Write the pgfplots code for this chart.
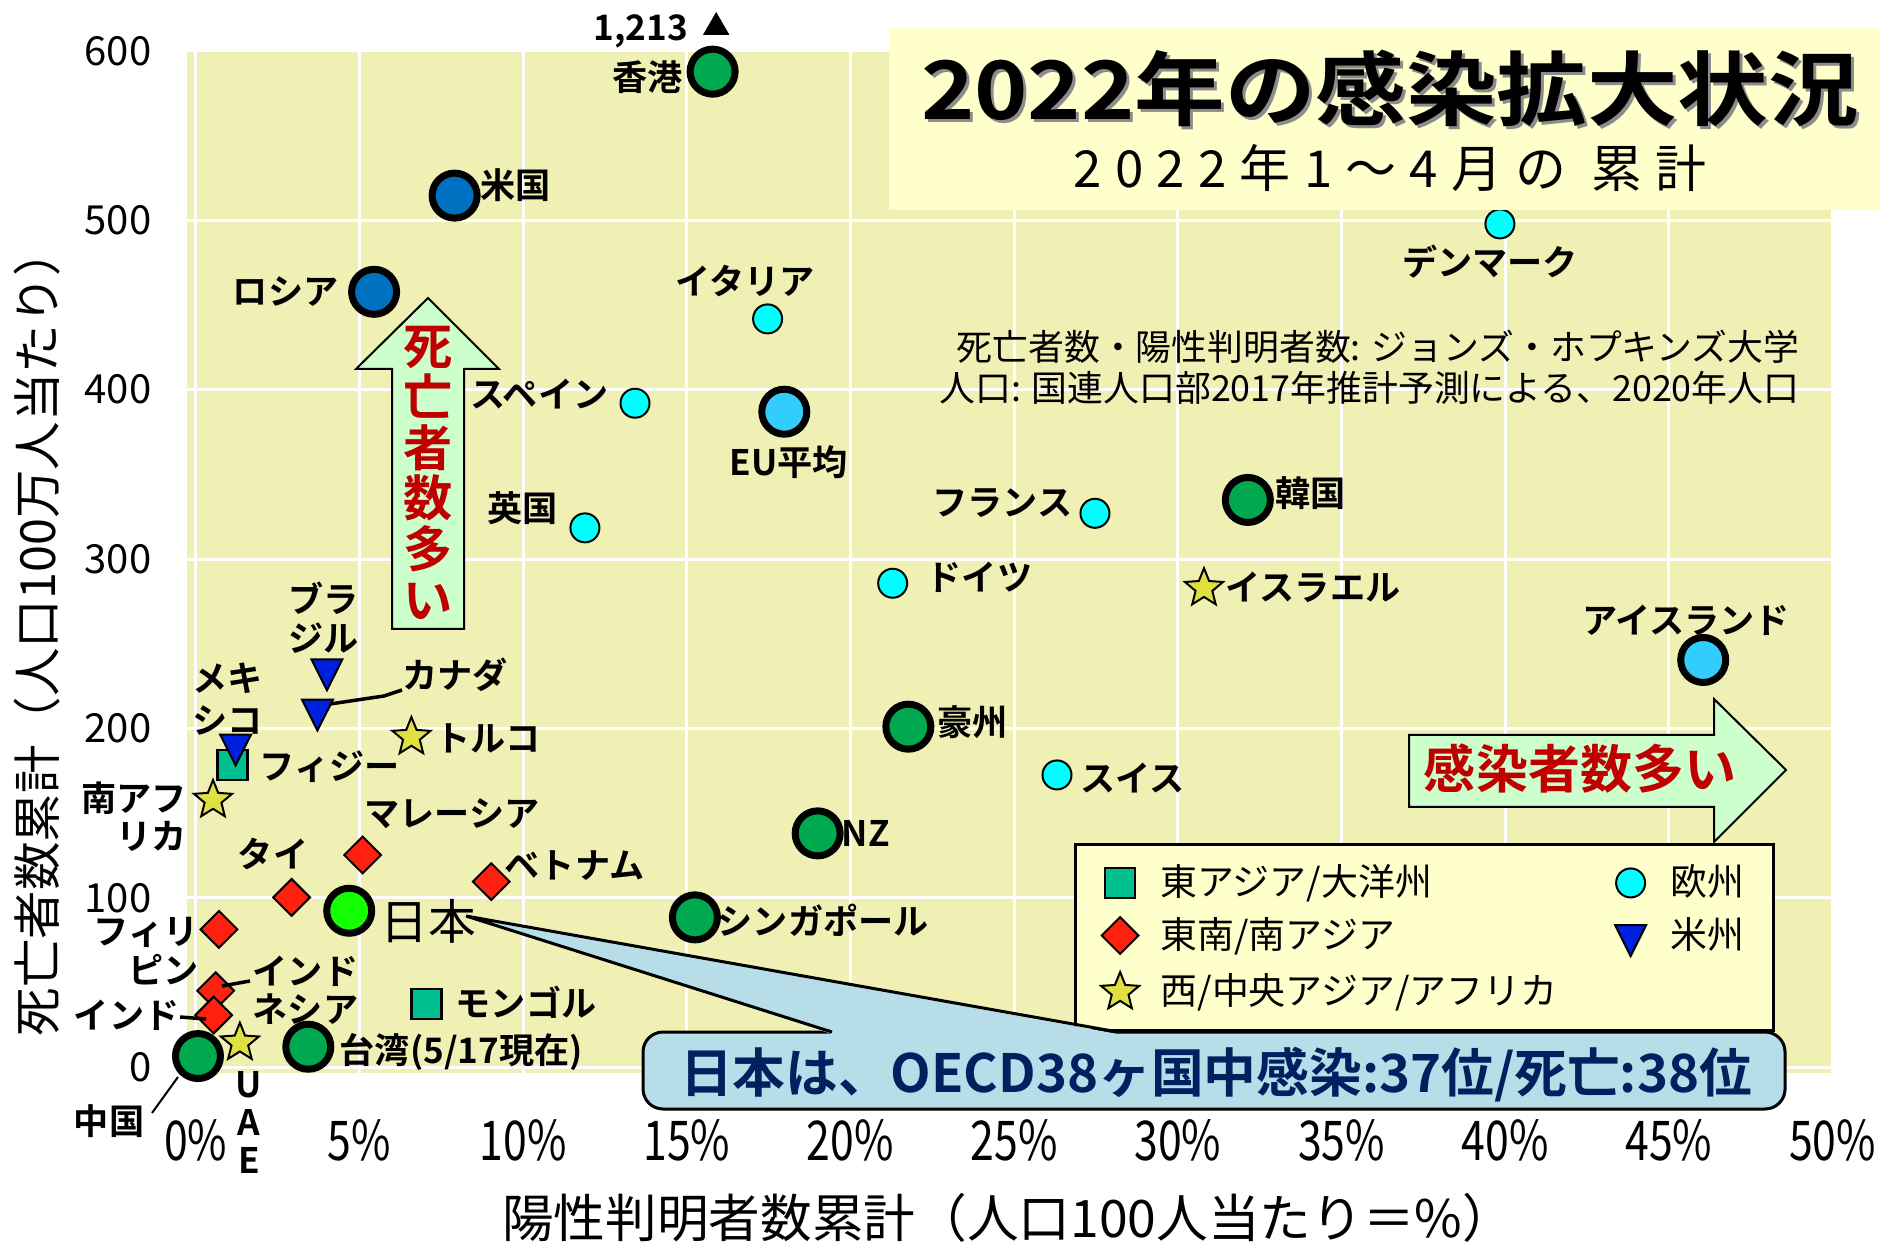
\documentclass[border=0pt]{standalone}
\usepackage{fontspec}
\setmainfont{Noto Sans CJK JP}[BoldFont={Noto Sans CJK JP Bold}]
\usepackage{graphicx}
\usepackage{pgfplots}
\pgfplotsset{compat=1.18}
\usetikzlibrary{plotmarks}

\definecolor{plotbg}{RGB}{240,240,180}
\definecolor{boxbg}{RGB}{255,255,204}
\definecolor{cgreen}{RGB}{0,168,80}
\definecolor{cjapan}{RGB}{20,255,0}
\definecolor{cblue}{RGB}{0,112,192}
\definecolor{clblue}{RGB}{51,204,255}
\definecolor{ccyan}{RGB}{0,255,255}
\definecolor{ctri}{RGB}{0,32,224}
\definecolor{cred}{RGB}{255,32,16}
\definecolor{cstar}{RGB}{224,224,64}
\definecolor{cteal}{RGB}{0,192,144}
\definecolor{arrowfill}{RGB}{204,255,204}
\definecolor{arrowtext}{RGB}{192,0,0}
\definecolor{callfill}{RGB}{183,222,232}
\definecolor{calltext}{RGB}{0,32,96}

\newcommand{\lab}{\fontsize{10}{12}\selectfont\bfseries}

\pgfdeclareplotmark{fstar}{%
  \pgfpathmoveto{\pgfqpointpolar{90}{\pgfplotmarksize}}%
  \pgfpathlineto{\pgfqpointpolar{126}{0.44\pgfplotmarksize}}%
  \pgfpathlineto{\pgfqpointpolar{162}{\pgfplotmarksize}}%
  \pgfpathlineto{\pgfqpointpolar{198}{0.44\pgfplotmarksize}}%
  \pgfpathlineto{\pgfqpointpolar{234}{\pgfplotmarksize}}%
  \pgfpathlineto{\pgfqpointpolar{270}{0.44\pgfplotmarksize}}%
  \pgfpathlineto{\pgfqpointpolar{306}{\pgfplotmarksize}}%
  \pgfpathlineto{\pgfqpointpolar{342}{0.44\pgfplotmarksize}}%
  \pgfpathlineto{\pgfqpointpolar{18}{\pgfplotmarksize}}%
  \pgfpathlineto{\pgfqpointpolar{54}{0.44\pgfplotmarksize}}%
  \pgfpathclose
  \pgfusepathqfillstroke
}

\pgfplotsset{
  bigc/.style={only marks, mark=*, mark size=2.25mm, line width=0.7mm, draw=black},
  smallc/.style={only marks, mark=*, mark size=1.45mm, line width=0.2mm, draw=black, fill=ccyan},
  tri/.style={only marks, mark=triangle*, mark size=1.79mm, mark options={rotate=180, yscale=1.15}, line width=0.2mm, draw=black, fill=ctri},
  dia/.style={only marks, mark=square*, mark size=1.3mm, mark options={rotate=45}, line width=0.2mm, draw=black, fill=cred},
  sta/.style={only marks, mark=fstar, mark size=2.0mm, line width=0.2mm, draw=black, fill=cstar},
  sqs/.style={only marks, mark=square*, mark size=1.5mm, line width=0.25mm, draw=black, fill=cteal},
}

\begin{document}
\begin{tikzpicture}
\begin{axis}[
  scale only axis, width=164.5mm, height=102.2mm,
  xmin=-0.25, xmax=50, ymin=-3.5, ymax=600,
  xtick={0,5,...,50}, ytick={0,100,...,600},
  grid=major, major grid style={white, line width=0.3mm},
  axis line style={draw=none}, major tick length=0pt, tick style={draw=none},
  axis background/.style={fill=plotbg},
  clip=false,
  /pgf/number format/assume math mode=true,
  xticklabel={\scalebox{0.78}[1]{\pgfmathprintnumber{\tick}\%}},
  xticklabel style={font=\fontsize{15.6}{18}\selectfont, anchor=base, inner sep=0pt, yshift=-8.7mm},
  yticklabel style={font=\fontsize{11.4}{13}\selectfont, anchor=east, inner sep=0pt, xshift=-3.55mm},
  legend columns=2,
  legend cell align=left,
  legend style={at={(axis cs:26.84,132.3)}, anchor=north west, fill=boxbg, draw=black, line width=0.25mm,
    inner xsep=2.55mm, inner ysep=2.05mm, row sep=1.6mm, column sep=0pt, nodes={inner sep=0pt},
    font=\fontsize{10.5}{12}\selectfont},
]
% legend entries
\addlegendimage{sqs}\addlegendentry{\hspace{2.15mm}\makebox[45.45mm][l]{東アジア/大洋州}}
\addlegendimage{smallc}\addlegendentry{\hspace{2.45mm}\makebox[7.75mm][l]{欧州}}
\addlegendimage{dia}\addlegendentry{\hspace{2.15mm}\makebox[45.45mm][l]{東南/南アジア}}
\addlegendimage{tri}\addlegendentry{\hspace{2.45mm}\makebox[7.75mm][l]{米州}}
\addlegendimage{sta}\addlegendentry{\hspace{2.15mm}\makebox[45.45mm][l]{西/中央アジア/アフリカ}}

% Europe small
\addplot[smallc, forget plot] coordinates {(17.47,441.8) (13.42,392) (11.89,318.4) (39.84,497.9) (27.47,327) (21.29,285.7) (26.31,172.5)};
% East Asia / Oceania squares
\addplot[sqs, forget plot] coordinates {(1.13,178.4) (7.05,37.2)};
% Americas triangles
\addplot[tri, forget plot] coordinates {(1.22,190.3) (4.01,234.7) (3.72,210.9)};
% SE / S Asia diamonds
\addplot[dia, forget plot] coordinates {(2.93,100.2) (5.10,125.2) (9.03,109.5) (0.71,81.3) (0.61,45.1) (0.55,30.7)};
% W / C Asia / Africa stars
\addplot[sta, forget plot] coordinates {(6.59,194.9) (0.53,157.7) (1.35,14.4) (30.8,282.8)};
% big circles
\addplot[bigc, fill=cgreen, forget plot] coordinates {(15.79,587.8) (32.14,334.9) (21.77,201) (19.0,138) (15.25,88.4) (3.44,12.0) (0.07,6.5)};
\addplot[bigc, fill=cblue, forget plot] coordinates {(7.91,514.6) (5.45,457.8)};
\addplot[bigc, fill=clblue, forget plot] coordinates {(17.98,387) (46.05,240.4)};
\addplot[bigc, fill=cjapan, forget plot] coordinates {(4.69,92.3)};
% off-scale indicator for Hong Kong (1,213)
\addplot[only marks, mark=triangle*, mark size=1.39mm, draw=black, fill=black, forget plot] coordinates {(15.9,614)};
\end{axis}

\begin{scope}[shift={(-18.75mm,107.3mm)}, x=0.1mm, y=-0.1mm, every node/.style={inner sep=0pt}]
% axis titles
\node[rotate=90, font=\fontsize{13.8}{16}\selectfont] at (37,632) {死亡者数累計（人口100万人当たり）};
\node[font=\fontsize{14.7}{17}\selectfont] at (1008,1218) {陽性判明者数累計（人口100人当たり＝\%）};

% title box
\fill[boxbg] (889,28) rectangle (1880,210);
\node[text=black!45, font=\fontsize{23}{26}\selectfont\bfseries] at (1393,91) {\scalebox{1.12}[1]{2022年の感染拡大状況}};
\node[font=\fontsize{23}{26}\selectfont\bfseries] at (1390,88) {\scalebox{1.12}[1]{2022年の感染拡大状況}};
\node[font={\fontsize{14.5}{16}\selectfont\addfontfeatures{LetterSpace=26}}] at (1390,168) {2022年1〜4月の 累計};

% source
\node[anchor=east, font=\fontsize{10.2}{12}\selectfont] at (1800,347) {死亡者数・陽性判明者数: ジョンズ・ホプキンズ大学};
\node[anchor=east, font=\fontsize{10.2}{12}\selectfont] at (1800,388) {人口: 国連人口部2017年推計予測による、2020年人口};

% arrows
\draw[fill=arrowfill, line width=0.2mm] (392,629) -- (392,369) -- (356,369) -- (428,298) -- (499,369) -- (464,369) -- (464,629) -- cycle;
\node[text=arrowtext, font=\fontsize{14}{14.45}\selectfont\bfseries, align=center] at (428,473) {死\\亡\\者\\数\\多\\い};
\draw[fill=arrowfill, line width=0.2mm] (1409,735) -- (1714,735) -- (1714,699) -- (1786,770) -- (1714,842) -- (1714,807) -- (1409,807) -- cycle;
\node[text=arrowtext, font=\fontsize{14.8}{17}\selectfont\bfseries] at (1580,769) {感染者数多い};

% callout
\draw[fill=callfill, line width=0.3mm, rounded corners=2mm] (643,1032) rectangle (1785,1109);
\fill[callfill] (832,1034) -- (466,916) -- (1118,1034) -- cycle;
\draw[line width=0.3mm] (832,1032) -- (466,916) -- (1118,1032);
\node[text=calltext, font=\fontsize{15}{18}\selectfont\bfseries] at (1216,1075) {日本は、OECD38ヶ国中感染:37位/死亡:38位};

% point labels
\node[anchor=east, font=\lab] at (683,77) {香港};
\node[font=\lab] at (641,31) {1,213};
\node[anchor=west, font=\lab] at (480,185) {米国};
\node[anchor=east, font=\lab] at (339,292) {ロシア};
\node[font=\lab] at (745,281) {イタリア};
\node[anchor=east, font=\lab] at (609,394) {スペイン};
\node[font=\lab] at (789,462) {EU平均};
\node[anchor=east, font=\lab] at (558,508) {英国};
\node[font=\lab] at (1490,262) {デンマーク};
\node[anchor=east, font=\lab] at (1073,503) {フランス};
\node[anchor=west, font=\lab] at (1275,493) {韓国};
\node[anchor=west, font=\lab] at (926,577) {ドイツ};
\node[anchor=west, font=\lab] at (1225,587) {イスラエル};
\node[font=\lab] at (1686,620) {アイスランド};
\node[anchor=west, font=\lab] at (937,722) {豪州};
\node[anchor=west, font=\lab] at (1080,778) {スイス};
\node[anchor=west, font=\lab] at (841,833) {NZ};
\node[anchor=west, font=\lab] at (717,920) {シンガポール};
\node[anchor=west, font=\lab] at (504,866) {ベトナム};
\node[font=\lab] at (452,814) {マレーシア};
\node[font=\lab] at (273,854) {タイ};
\node[anchor=west, font=\fontsize{13.6}{16}\selectfont] at (379.5,921) {日本};
\node[anchor=east, font=\lab] at (199,932) {フィリ};
\node[anchor=east, font=\lab] at (199,970) {ピン};
\node[anchor=east, font=\lab] at (180,1015) {インド};
\draw[line width=0.35mm] (180,1017) -- (206,1019);
\node[anchor=west, font=\lab] at (252,971) {インド};
\node[anchor=west, font=\lab] at (252,1009) {ネシア};
\draw[line width=0.35mm] (222,986) -- (250,981);
\node[font=\lab] at (109,1121) {中国};
\draw[line width=0.2mm] (152,1113) -- (178,1077);
\node[font=\lab] at (249,1085) {U};
\node[font=\lab] at (249,1122) {A};
\node[font=\lab] at (249,1160) {E};
\node[anchor=west, font=\lab] at (339,1052) {台湾(5/17現在)};
\node[anchor=west, font=\lab] at (455,1002) {モンゴル};
\node[anchor=west, font=\lab] at (259,767) {フィジー};
\node[anchor=east, font=\lab] at (187.5,798) {南アフ};
\node[anchor=east, font=\lab] at (187.5,836) {リカ};
\node[anchor=west, font=\lab] at (192,678) {メキ};
\node[anchor=west, font=\lab] at (192,720) {シコ};
\node[anchor=west, font=\lab] at (288,598) {ブラ};
\node[anchor=west, font=\lab] at (288,638) {ジル};
\node[font=\lab] at (455,675) {カナダ};
\draw[line width=0.35mm] (330,704) -- (384,696) -- (402,690);
\node[anchor=west, font=\lab] at (435,738) {トルコ};
\end{scope}

\pgfresetboundingbox
\path[use as bounding box] (-18.75mm,-17.2mm) rectangle (169.25mm,107.3mm);
\end{tikzpicture}
\end{document}
